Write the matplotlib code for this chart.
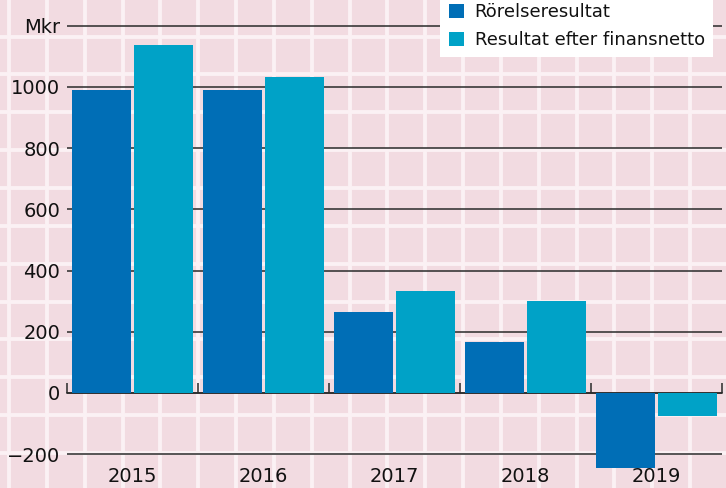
import matplotlib
matplotlib.use("Agg")
import matplotlib.pyplot as plt
from matplotlib.patches import Patch
import matplotlib.transforms as mtransforms
import numpy as np

# ---- data ----
years = ["2015", "2016", "2017", "2018", "2019"]
rorelseresultat = [990, 990, 265, 167, -245]
resultat_efter_finansnetto = [1137, 1033, 333, 300, -75]
series_labels = ["Rörelseresultat", "Resultat efter finansnetto"]
y_ticks = [-200, 0, 200, 400, 600, 800, 1000, 1200]
y_ticklabels = ["\u2212200", "0", "200", "400", "600", "800", "1000", "Mkr"]

# ---- style ----
W, H = 726, 488
dark = "#006EB6"
light = "#00A2C7"
pink = "#F2DBE1"
gridwhite = "#FBF1F4"
linecol = "#2a2a2a"
plt.rcParams["font.family"] = ["DejaVu Sans"]

fig = plt.figure(figsize=(W / 100, H / 100), dpi=100)
fig.patch.set_facecolor(pink)

# background graph-paper grid (pixel coords)
bg = fig.add_axes([0, 0, 1, 1], zorder=0)
bg.set_xlim(0, W)
bg.set_ylim(H, 0)
bg.axis("off")
step = 37.84
for x in np.arange(9.0, W + 10, step):
    bg.axvline(x, color=gridwhite, lw=2.8, zorder=0)
for y in np.arange(-1.2, H + 10, step):
    bg.axhline(y, color=gridwhite, lw=2.8, zorder=0)

# main axes
left, right = 67 / W, 722 / W
ax = fig.add_axes([left, 0, right - left, 1], zorder=1)
ax.set_facecolor("none")
zero_px, k_px = 393.0, 0.306
ax.set_ylim(-(H - zero_px) / k_px, zero_px / k_px)
ax.set_xlim(-0.5, len(years) - 0.5)

x = np.arange(len(years))
off, bw = 0.237, 0.45
ax.bar(x - off, rorelseresultat, width=bw, color=dark, zorder=3, label=series_labels[0])
ax.bar(x + off, resultat_efter_finansnetto, width=bw, color=light, zorder=3, label=series_labels[1])

for v in y_ticks:
    ax.axhline(v, color=linecol, lw=1.1, zorder=2)

ax.set_yticks(y_ticks)
ax.set_yticklabels(y_ticklabels)
ax.tick_params(axis="y", length=0, pad=5, labelsize=14, colors="#111111")

for s in ["top", "right", "left"]:
    ax.spines[s].set_visible(False)
ax.spines["bottom"].set_position(("data", 0))
ax.spines["bottom"].set_color(linecol)
ax.spines["bottom"].set_linewidth(1.1)
ax.set_xticks(np.arange(-0.5, len(years), 1.0))
ax.tick_params(axis="x", direction="in", length=7.5, width=1.1, color=linecol, labelbottom=False)

trans = mtransforms.blended_transform_factory(ax.transData, ax.transAxes)
for i, yr in enumerate(years):
    ax.text(i, 1 - 477 / H, yr, transform=trans, ha="center", va="center", fontsize=14, color="#111111")

handles = [Patch(facecolor=dark, edgecolor="none"), Patch(facecolor=light, edgecolor="none")]
leg = fig.legend(handles, series_labels, loc="upper right",
                 bbox_to_anchor=(713 / W, 1 + 5 / H), frameon=True, fancybox=False,
                 framealpha=1, edgecolor="none", facecolor="white", fontsize=13,
                 handlelength=0.85, handleheight=0.85, handletextpad=0.6,
                 labelspacing=0.55, borderpad=0.45, borderaxespad=0)
for t in leg.get_texts():
    t.set_color("#111111")
leg.set_zorder(5)

fig.savefig("out.png", dpi=100, facecolor=pink)
